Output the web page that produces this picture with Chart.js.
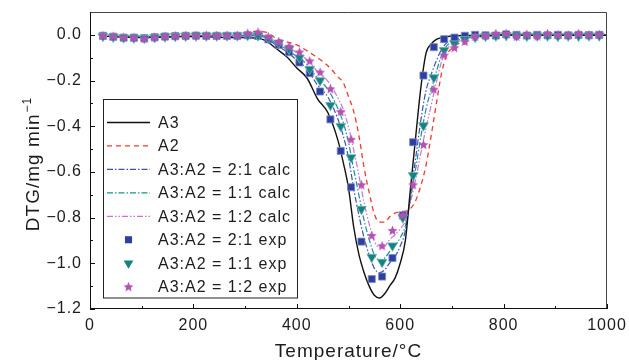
<!DOCTYPE html>
<html>
<head>
<meta charset="utf-8">
<script src="https://cdn.jsdelivr.net/npm/chart.js@4.4.1/dist/chart.umd.min.js"></script>
<style>
  html, body { margin: 0; padding: 0; background: #fff; }
</style>
</head>
<body>
<canvas id="dtg" width="629" height="360"></canvas>
<script>
// ── data ─────────────────────────────────────────────────────────────────
const lineT = [20, 60, 100, 140, 180, 220, 260, 300, 320, 340, 360, 380, 400, 420, 440, 460, 480, 490, 500, 510,
  520, 530, 540, 550, 560, 570, 580, 590, 600, 610, 620, 630, 640, 650, 660, 670, 680, 690, 700, 720,
  760, 800, 850, 900, 950, 1000];

const a3 = [-0.005, -0.01, -0.012, -0.01, -0.008, -0.008, -0.012, -0.012, -0.014, -0.025, -0.06, -0.095, -0.145, -0.19, -0.28, -0.34, -0.465, -0.56, -0.67, -0.84,
  -0.96, -1.04, -1.1, -1.14, -1.152, -1.133, -1.098, -1.065, -1.0, -0.9, -0.67, -0.445, -0.23, -0.08, -0.04, -0.02, -0.012, -0.008, -0.005, -0.003,
  -0.003, 0.0, -0.002, -0.002, -0.002, -0.002];

const a2 = [-0.003, -0.005, -0.008, -0.006, -0.004, -0.003, 0.0, 0.008, 0.015, 0.012, -0.015, -0.03, -0.044, -0.07, -0.1, -0.135, -0.185, -0.21, -0.27, -0.335,
  -0.44, -0.58, -0.69, -0.785, -0.82, -0.82, -0.795, -0.78, -0.775, -0.772, -0.76, -0.725, -0.66, -0.57, -0.44, -0.3, -0.168, -0.088, -0.06, -0.03,
  -0.008, -0.002, 0.0, -0.002, 0.0, -0.002];

const calc21 = [-0.004, -0.008, -0.011, -0.009, -0.007, -0.006, -0.008, -0.005, -0.004, -0.013, -0.045, -0.073, -0.111, -0.15, -0.22, -0.272, -0.372, -0.443, -0.537, -0.672,
  -0.787, -0.887, -0.963, -1.022, -1.041, -1.029, -0.997, -0.97, -0.925, -0.857, -0.7, -0.538, -0.373, -0.243, -0.173, -0.113, -0.064, -0.035, -0.023, -0.012,
  -0.005, -0.001, -0.001, -0.002, -0.001, -0.002];

const calc11 = [-0.004, -0.008, -0.01, -0.008, -0.006, -0.006, -0.006, -0.002, 0.0, -0.007, -0.038, -0.063, -0.095, -0.13, -0.19, -0.238, -0.325, -0.385, -0.47, -0.588,
  -0.7, -0.81, -0.895, -0.963, -0.986, -0.977, -0.947, -0.923, -0.888, -0.836, -0.715, -0.585, -0.445, -0.325, -0.24, -0.16, -0.09, -0.048, -0.033, -0.017,
  -0.006, -0.001, -0.001, -0.002, -0.001, -0.002];

const calc12 = [-0.004, -0.007, -0.009, -0.007, -0.005, -0.005, -0.004, 0.001, 0.005, 0.0, -0.03, -0.052, -0.078, -0.11, -0.16, -0.203, -0.278, -0.327, -0.403, -0.503,
  -0.613, -0.733, -0.827, -0.903, -0.931, -0.924, -0.896, -0.875, -0.85, -0.815, -0.73, -0.632, -0.517, -0.407, -0.307, -0.207, -0.116, -0.061, -0.042, -0.021,
  -0.006, -0.001, -0.001, -0.002, -0.001, -0.002];

const expT = [25, 45, 65, 85, 105, 125, 145, 165, 185, 205, 225, 245, 265, 285, 305, 325, 345, 365, 385, 405,
  425, 445, 465, 485, 505, 525, 545, 565, 585, 605, 625, 645, 665, 685, 705, 725, 745, 765, 785, 805,
  825, 845, 865, 885, 905, 925, 945, 965, 985];

const exp21 = [-0.004, -0.008, -0.012, -0.012, -0.014, -0.01, -0.007, -0.005, -0.004, -0.003, -0.004, -0.004, -0.004, -0.004, -0.002, -0.005, -0.02, -0.044, -0.076, -0.121,
  -0.168, -0.248, -0.37, -0.508, -0.667, -0.905, -1.069, -1.058, -0.977, -0.79, -0.47, -0.178, -0.054, -0.019, -0.012, -0.004, 0.0, -0.002, -0.003, 0.002,
  0.0, -0.003, 0.0, -0.002, 0.0, -0.002, 0.0, -0.001, 0.0];

const exp11 = [-0.006, -0.009, -0.012, -0.013, -0.015, -0.011, -0.008, -0.006, -0.005, -0.004, -0.004, -0.004, -0.003, -0.003, -0.002, -0.003, -0.015, -0.035, -0.062, -0.1,
  -0.15, -0.2, -0.308, -0.4, -0.537, -0.763, -0.973, -0.995, -0.923, -0.8, -0.615, -0.397, -0.187, -0.068, -0.039, -0.02, -0.01, -0.005, -0.004, -0.002,
  -0.004, -0.005, -0.004, -0.004, -0.006, -0.004, -0.005, -0.003, -0.004];

const exp12 = [-0.003, -0.006, -0.01, -0.012, -0.016, -0.01, -0.006, -0.004, -0.003, -0.003, -0.002, -0.003, -0.002, -0.002, 0.007, 0.012, -0.007, -0.029, -0.05, -0.075,
  -0.114, -0.163, -0.236, -0.336, -0.457, -0.656, -0.878, -0.923, -0.856, -0.788, -0.656, -0.48, -0.238, -0.088, -0.056, -0.029, -0.007, -0.003, 0.006, 0.006,
  -0.006, 0.003, -0.005, 0.006, 0.0, 0.0, 0.006, 0.0, 0.002];

const FONT = "'Liberation Sans', Arial, sans-serif";
const INK = '#1c1c1c';

const pts = (xs, ys) => xs.map((x, i) => ({ x, y: ys[i] }));

function starImage(size, fill) {
  const c = document.createElement('canvas');
  c.width = c.height = size;
  const g = c.getContext('2d');
  const r = size / 2 - 0.3, ri = r * 0.45, cx = size / 2, cy = size / 2 + 0.5;
  g.beginPath();
  for (let i = 0; i < 10; i++) {
    const rr = i % 2 ? ri : r;
    const a = -Math.PI / 2 + i * Math.PI / 5;
    g.lineTo(cx + rr * Math.cos(a), cy + rr * Math.sin(a));
  }
  g.closePath();
  g.fillStyle = fill;
  g.fill();
  return c;
}
const STAR = starImage(11, '#b550b5');

const lineDs = (label, ys, color, dash, width, order) => ({
  label, data: pts(lineT, ys), borderColor: color, borderDash: dash, borderWidth: width,
  pointRadius: 0, cubicInterpolationMode: 'monotone', fill: false, order
});
const markDs = (label, ys, style, color, edge, radius, rotation, order) => ({
  label, data: pts(expT, ys), showLine: false, pointStyle: style, pointRadius: radius, pointRotation: rotation,
  backgroundColor: color, borderColor: edge, borderWidth: 0.8, order
});

// ── plugins ──────────────────────────────────────────────────────────────
const spacing = {
  id: 'spacing',
  beforeUpdate(chart) { chart.ctx.letterSpacing = '1px'; },
  beforeDraw(chart) { chart.ctx.letterSpacing = '1px'; }
};

const frame = {
  id: 'frame',
  afterDraw(chart) {
    const { ctx, chartArea: a, scales: { x, y } } = chart;
    ctx.save();
    ctx.lineWidth = 1;
    ctx.strokeStyle = '#444';
    ctx.beginPath();
    ctx.moveTo(a.left, a.top + 0.5); ctx.lineTo(a.right - 0.5, a.top + 0.5); ctx.lineTo(a.right - 0.5, a.bottom);
    ctx.stroke();
    ctx.strokeStyle = '#111';
    ctx.beginPath();
    ctx.moveTo(a.left + 0.5, a.top); ctx.lineTo(a.left + 0.5, a.bottom - 0.5); ctx.lineTo(a.right, a.bottom - 0.5);
    x.ticks.forEach(t => {
      const px = Math.round(x.getPixelForValue(t.value)) + 0.5;
      const len = t.value % 200 === 0 ? 5 : 3;
      ctx.moveTo(px, a.bottom); ctx.lineTo(px, a.bottom - len);
    });
    y.ticks.forEach(t => {
      const k = Math.round(t.value * 10);
      if (k > 0) return;
      const py = Math.round(y.getPixelForValue(t.value)) + 0.5;
      const len = k % 2 === 0 ? 5 : 3;
      ctx.moveTo(a.left, py); ctx.lineTo(a.left + len, py);
    });
    ctx.stroke();
    ctx.restore();
  }
};

const titles = {
  id: 'titles',
  afterDraw(chart) {
    const { ctx, chartArea: a } = chart;
    ctx.save();
    ctx.letterSpacing = '1px';
    ctx.fillStyle = INK;
    ctx.font = `19px ${FONT}`;
    ctx.textAlign = 'center';
    ctx.textBaseline = 'alphabetic';
    ctx.fillText('Temperature/°C', (a.left + a.right) / 2, 357);

    // y title with superscript
    const main = 'DTG/mg min', sup = '\u22121';
    const wMain = ctx.measureText(main).width;
    ctx.font = `12px ${FONT}`;
    const wSup = ctx.measureText(sup).width;
    const total = wMain + wSup + 1;
    ctx.translate(39, 164);
    ctx.rotate(-Math.PI / 2);
    ctx.textAlign = 'left';
    ctx.font = `19px ${FONT}`;
    ctx.fillText(main, -total / 2, 0);
    ctx.font = `12px ${FONT}`;
    ctx.fillText(sup, -total / 2 + wMain + 1, -8);
    ctx.restore();
  }
};

const boxLegend = {
  id: 'boxLegend',
  afterDraw(chart) {
    const { ctx } = chart;
    const L = 103, T = 99, R = 297, B = 297.5, x0 = 107, x1 = 150, tx = 158, y0 = 122.5, dy = 23.45;
    ctx.save();
    ctx.fillStyle = '#fff';
    ctx.fillRect(L, T, R - L, B - T);
    ctx.strokeStyle = '#222';
    ctx.lineWidth = 1;
    ctx.strokeRect(L + 0.5, T + 0.5, R - L, B - T);
    ctx.letterSpacing = '1px';
    ctx.font = `16px ${FONT}`;
    ctx.textBaseline = 'middle';
    chart.data.datasets.forEach((ds, i) => {
      const cy = y0 + i * dy;
      const cx = (x0 + x1) / 2;
      if (ds.showLine === false) {
        const r = ds.pointRadius;
        ctx.fillStyle = ds.backgroundColor;
        if (ds.pointStyle === 'rect') {
          const s = Math.SQRT1_2 * r;
          ctx.fillRect(cx - s, cy - s, 2 * s, 2 * s);
        } else if (ds.pointStyle === 'triangle') {
          const h = r * 1.5, w = r * Math.sqrt(3);
          ctx.beginPath();
          ctx.moveTo(cx - w / 2, cy - h / 3);
          ctx.lineTo(cx + w / 2, cy - h / 3);
          ctx.lineTo(cx, cy + 2 * h / 3);
          ctx.closePath();
          ctx.fill();
        } else {
          ctx.drawImage(ds.pointStyle, cx - ds.pointStyle.width / 2, cy - ds.pointStyle.height / 2);
        }
      } else {
        ctx.strokeStyle = ds.borderColor;
        ctx.lineWidth = ds.borderWidth;
        ctx.setLineDash(ds.borderDash || []);
        ctx.beginPath();
        ctx.moveTo(x0, cy); ctx.lineTo(x1, cy);
        ctx.stroke();
        ctx.setLineDash([]);
      }
      ctx.fillStyle = INK;
      ctx.fillText(ds.label, tx, cy + 1);
    });
    ctx.restore();
  }
};

// fix the plot box: no extra room for half labels at the axis ends
const fitX = s => { s.height = 51; s.paddingLeft = 0; s.paddingRight = 0; };
const fitY = s => { s.width = 90; s.paddingTop = 0; s.paddingBottom = 0; };

// ── chart ────────────────────────────────────────────────────────────────
Chart.defaults.font.family = FONT;
Chart.defaults.font.size = 16;
Chart.defaults.color = INK;

new Chart(document.getElementById('dtg'), {
  type: 'line',
  data: {
    datasets: [
      lineDs('A3', a3, '#111111', [], 1.4, 4),
      lineDs('A2', a2, '#ee3b2e', [5, 4], 1.3, 8),
      lineDs('A3:A2 = 2:1 calc', calc21, '#3c4fb5', [6, 2, 1.5, 2], 1.2, 5),
      lineDs('A3:A2 = 1:1 calc', calc11, '#14948f', [6, 2, 1.5, 2], 1.2, 6),
      lineDs('A3:A2 = 1:2 calc', calc12, '#cf72cf', [6, 2, 1.5, 2, 1.5, 2], 1.2, 7),
      markDs('A3:A2 = 2:1 exp', exp21, 'rect', '#2e3f9f', '#7f8ccb', 5, 0, 3),
      markDs('A3:A2 = 1:1 exp', exp11, 'triangle', '#138282', '#6fb3b3', 5.6, 180, 2),
      markDs('A3:A2 = 1:2 exp', exp12, STAR, '#b550b5', '#b550b5', 5, 0, 1)
    ]
  },
  options: {
    responsive: false,
    devicePixelRatio: 1,
    animation: false,
    layout: { padding: { top: 12, right: 22, left: 0, bottom: 0 } },
    plugins: { legend: { display: false }, tooltip: { enabled: false } },
    scales: {
      x: {
        type: 'linear', min: 0, max: 1000,
        border: { display: false },
        grid: { display: false, drawTicks: false },
        ticks: {
          stepSize: 100, autoSkip: false, maxRotation: 0, padding: 7, color: INK,
          callback: v => (v % 200 === 0 ? String(v) : '')
        },
        afterFit: fitX
      },
      y: {
        min: -1.2, max: 0.1,
        border: { display: false },
        grid: { display: false, drawTicks: false },
        ticks: {
          stepSize: 0.1, autoSkip: false, padding: 8, color: INK,
          callback: v => {
            const k = Math.round(v * 10);
            if (k > 0 || k % 2 !== 0) return '';
            return (k < 0 ? '\u2212' : '') + Math.abs(k / 10).toFixed(1);
          }
        },
        afterFit: fitY
      }
    }
  },
  plugins: [spacing, frame, titles, boxLegend]
});
</script>
</body>
</html>
